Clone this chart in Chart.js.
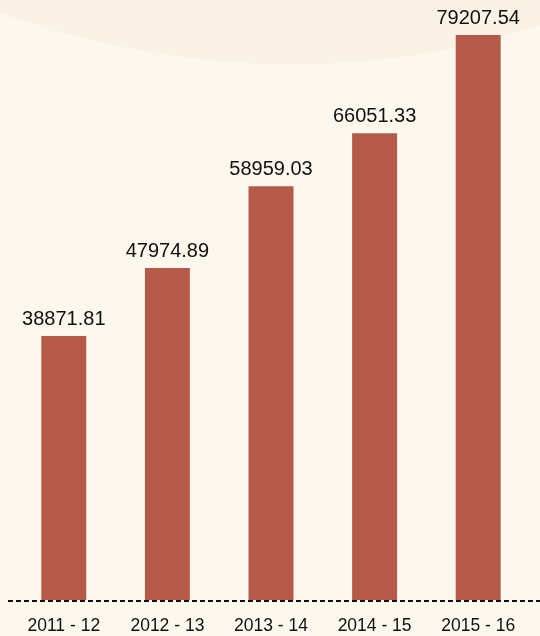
<!DOCTYPE html>
<html>
<head>
<meta charset="utf-8">
<script src="https://cdn.jsdelivr.net/npm/chart.js@4"></script>
<style>
  html, body { margin: 0; padding: 0; background: #fdf7ec; }
  #wrap { width: 540px; height: 636px; position: relative; }
</style>
</head>
<body>
<div id="wrap"><canvas id="chart"></canvas></div>
<script>
// DATA
const years = ["2011 - 12", "2012 - 13", "2013 - 14", "2014 - 15", "2015 - 16"];
const amounts = [38871.81, 47974.89, 58959.03, 66051.33, 79207.54];
const valueLabels = ["38871.81", "47974.89", "58959.03", "66051.33", "79207.54"];

// background wash, labels and dashed baseline
const decor = {
    id: "decor",
    beforeDraw(chart) {
        const c = chart.ctx;
        c.save();
        c.fillStyle = "#fdf8ee";
        c.fillRect(0, 0, chart.width, chart.height);
        c.fillStyle = "#fbf2e6";
        c.beginPath();
        c.moveTo(0, 0);
        c.lineTo(0, 13);
        c.quadraticCurveTo(280, 110, 540, 25);
        c.lineTo(540, 0);
        c.closePath();
        c.fill();
        c.restore();
    },
    afterDatasetsDraw(chart) {
        const c = chart.ctx;
        const meta = chart.getDatasetMeta(0);
        const area = chart.chartArea;
        c.save();
        // dashed baseline
        c.strokeStyle = "#111";
        c.lineWidth = 2;
        c.setLineDash([5, 3]);
        c.beginPath();
        c.moveTo(8, area.bottom + 1);
        c.lineTo(540, area.bottom + 1);
        c.stroke();
        c.setLineDash([]);
        // value labels
        c.fillStyle = "#111";
        c.textAlign = "center";
        c.textBaseline = "alphabetic";
        c.font = "20px 'Liberation Sans', Arial, sans-serif";
        meta.data.forEach((bar, i) => {
            c.fillText(valueLabels[i], bar.x, bar.y - 11);
        });
        // category labels
        c.font = "17.5px 'Liberation Sans', Arial, sans-serif";
        c.textBaseline = "middle";
        meta.data.forEach((bar, i) => {
            c.fillText(years[i], bar.x, 626);
        });
        c.restore();
    }
};

new Chart(document.getElementById("chart"), {
    type: "bar",
    data: {
        labels: years,
        datasets: [{
            data: amounts,
            backgroundColor: "#b55a48",
            borderWidth: 0,
            barPercentage: 0.434,
            categoryPercentage: 1.0
        }]
    },
    options: {
        responsive: true,
        maintainAspectRatio: false,
        animation: false,
        layout: { padding: { left: 12, right: 10, top: 0, bottom: 36 } },
        plugins: { legend: { display: false }, tooltip: { enabled: false } },
        scales: {
            x: { display: false },
            y: { display: false, min: 3485, max: 83914 }
        }
    },
    plugins: [decor]
});
</script>
</body>
</html>
